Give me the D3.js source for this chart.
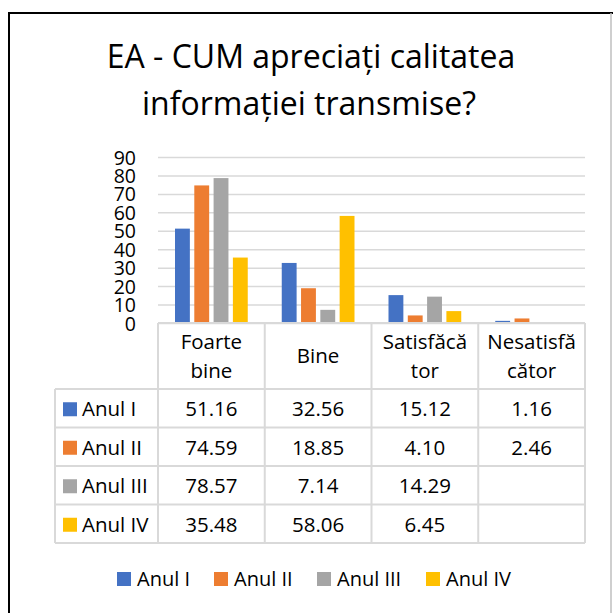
<!DOCTYPE html>
<html>
<head>
<meta charset="utf-8">
<script src="https://cdn.jsdelivr.net/npm/d3@7"></script>
<style>
  body { margin: 0; background: #fff; }
  svg { display: block; font-family: 'Open Sans', sans-serif; }
</style>
</head>
<body>
<svg id="chart" width="613" height="613"></svg>
<script>
// chart data
const categories = ['Foarte bine', 'Bine', 'Satisfăcător', 'Nesatisfăcător']
const headerLines = [['Foarte', 'bine'], ['Bine'], ['Satisfăcă', 'tor'], ['Nesatisfă', 'cător']]
const seriesNames = ['Anul I', 'Anul II', 'Anul III', 'Anul IV']
const anulI = [51.16, 32.56, 15.12, 1.16]
const anulII = [74.59, 18.85, 4.10, 2.46]
const anulIII = [78.57, 7.14, 14.29, null]
const anulIV = [35.48, 58.06, 6.45, null]
const yTicks = [0, 10, 20, 30, 40, 50, 60, 70, 80, 90]
const colors = ['#4472C4', '#ED7D31', '#A5A5A5', '#FFC000']

const seriesValues = [anulI, anulII, anulIII, anulIV]
const series = seriesNames.map((name, i) => ({ name, color: colors[i], values: seriesValues[i] }))

const svg = d3.select('#chart')
const grid = '#d9d9d9'

// outer frame
svg.append('line').attr('x1', 9).attr('x2', 9).attr('y1', 13).attr('y2', 613)
  .attr('stroke', '#000').attr('stroke-width', 2)
svg.append('line').attr('x1', 8).attr('x2', 613).attr('y1', 13).attr('y2', 13)
  .attr('stroke', '#000').attr('stroke-width', 2)
svg.append('line').attr('x1', 611).attr('x2', 611).attr('y1', 13).attr('y2', 613)
  .attr('stroke', '#bfbfbf').attr('stroke-width', 1.5)

// title
const title = svg.append('text').attr('text-anchor', 'middle').attr('fill', '#000')
  .style('font-size', '32px')
title.append('tspan').attr('x', 311).attr('y', 68).text('EA - CUM apreciați calitatea')
title.append('tspan').attr('x', 309).attr('y', 115).text('informației transmise?')

// scales
const x0 = d3.scaleBand().domain(categories).range([158, 585])
const x1 = d3.scaleBand().domain(seriesNames).range([17, x0.bandwidth() - 17]).paddingInner(0.23)
const y = d3.scaleLinear().domain([0, 90]).range([323, 157])

// gridlines
svg.append('g')
  .attr('transform', `translate(${x0.range()[0]},0)`)
  .call(d3.axisRight(y).tickValues(yTicks).tickSize(x0.range()[1] - x0.range()[0]).tickFormat(''))
  .call(g => g.select('.domain').remove())
  .call(g => g.selectAll('line').attr('stroke', grid).attr('stroke-width', 1.5))

// y axis labels
svg.append('g')
  .attr('transform', 'translate(136,0)')
  .call(d3.axisLeft(y).tickValues(yTicks).tickSize(0).tickPadding(0))
  .call(g => g.select('.domain').remove())
  .call(g => g.selectAll('text').attr('fill', '#000').attr('dy', '0.36em')
    .style('font-size', '19.5px').style('font-family', "'Open Sans', sans-serif"))

// bars
const groups = svg.append('g').selectAll('g').data(categories).join('g')
  .attr('transform', d => `translate(${x0(d)},0)`)
groups.selectAll('rect')
  .data((c, ci) => series.filter(s => s.values[ci] != null).map(s => ({ s, v: s.values[ci] })))
  .join('rect')
  .attr('x', d => x1(d.s.name))
  .attr('width', x1.bandwidth())
  .attr('y', d => y(d.v))
  .attr('height', d => y(0) - y(d.v))
  .attr('fill', d => d.s.color)

// data table
const headerTop = 323
const headerBottom = 389
const rowH = 38.5
const tableLeft = 55
const tableRight = x0.range()[1]
const tableBottom = headerBottom + rowH * series.length
const table = svg.append('g')
const lineStyle = sel => sel.attr('stroke', grid).attr('stroke-width', 2)

// horizontal lines
table.append('line').attr('x1', x0.range()[0]).attr('x2', tableRight)
  .attr('y1', headerTop).attr('y2', headerTop).call(lineStyle)
d3.range(series.length + 1).forEach(i => {
  const yy = headerBottom + i * rowH
  table.append('line').attr('x1', tableLeft).attr('x2', tableRight)
    .attr('y1', yy).attr('y2', yy).call(lineStyle)
})
// vertical lines
table.append('line').attr('x1', tableLeft).attr('x2', tableLeft)
  .attr('y1', headerBottom).attr('y2', tableBottom).call(lineStyle)
categories.concat(['end']).forEach((c, i) => {
  const xx = x0.range()[0] + i * x0.step()
  table.append('line').attr('x1', xx).attr('x2', xx)
    .attr('y1', headerTop).attr('y2', tableBottom).call(lineStyle)
})

// header text
categories.forEach((c, i) => {
  const lines = headerLines[i]
  const cx = x0(c) + x0.bandwidth() / 2
  const mid = (headerTop + headerBottom) / 2
  const t = table.append('text').attr('text-anchor', 'middle').attr('fill', '#000').style('font-size', '20.5px')
  lines.forEach((ln, j) => {
    t.append('tspan').attr('x', cx)
      .attr('y', mid + 7 + (j - (lines.length - 1) / 2) * 29)
      .text(ln)
  })
})

// rows
const fmt = d3.format('.2f')
series.forEach((s, r) => {
  const top = headerBottom + r * rowH
  const base = top + rowH / 2 + 8
  table.append('rect').attr('x', 63).attr('y', top + rowH / 2 - 6).attr('width', 14).attr('height', 14)
    .attr('fill', s.color)
  table.append('text').attr('x', 82).attr('y', base).attr('fill', '#000').style('font-size', '20.5px').text(s.name)
  categories.forEach((c, ci) => {
    const v = s.values[ci]
    if (v == null) return
    table.append('text').attr('x', x0(c) + x0.bandwidth() / 2).attr('y', base)
      .attr('text-anchor', 'middle').attr('fill', '#000').style('font-size', '20.5px').text(fmt(v))
  })
})

// legend
const legendX = [117, 214, 317, 426]
const legend = svg.append('g').selectAll('g').data(series).join('g')
  .attr('transform', (d, i) => `translate(${legendX[i]},572)`)
legend.append('rect').attr('width', 14).attr('height', 14).attr('fill', d => d.color)
legend.append('text').attr('x', 20).attr('y', 14).attr('fill', '#000').style('font-size', '20px').text(d => d.name)
</script>
</body>
</html>
